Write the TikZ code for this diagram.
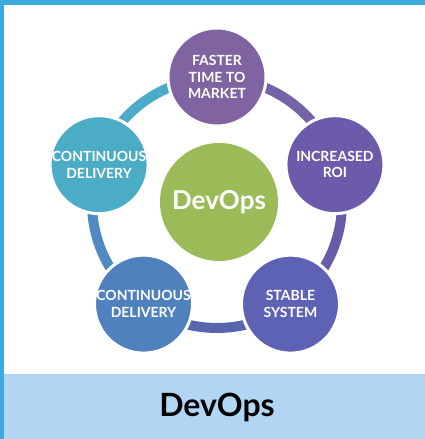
\documentclass[tikz,border=0pt]{standalone}
\usepackage{fontspec}
\setmainfont{Lato}
\definecolor{border}{HTML}{3DA9E1}
\definecolor{band}{HTML}{B1D5F2}
\definecolor{cTop}{HTML}{8064A2}
\definecolor{cRight}{HTML}{6B5BAA}
\definecolor{cBR}{HTML}{5E62B5}
\definecolor{cBL}{HTML}{4F81BD}
\definecolor{cLeft}{HTML}{4BACC6}
\definecolor{cGreen}{HTML}{9BBB59}
\definecolor{sTR}{HTML}{7662A8}
\definecolor{sRB}{HTML}{6A5BAA}
\definecolor{sBB}{HTML}{5866AE}
\definecolor{sBL}{HTML}{4F8BC1}
\definecolor{sLT}{HTML}{4BABC8}
\tikzset{
  outer/.style={circle, minimum size=98pt, inner sep=0pt, draw=white, line width=3pt, text=white,
    font=\fontsize{14}{16.5}\selectfont\bfseries, align=center},
  ringseg/.style={line width=10pt},
}
\begin{document}
\begin{tikzpicture}[x=1pt,y=1pt]
\useasboundingbox (0,0) rectangle (425,439);
\fill[white] (0,0) rectangle (425,439);
\fill[band] (0,0) rectangle (425,65);
\fill[border] (0,434) rectangle (425,439);
\fill[border] (0,0) rectangle (4,439);
\coordinate (ctr) at (217,236);
% ring segments
\draw[ringseg, sTR] ([shift={(90:125)}]ctr) arc[start angle=90, end angle=18, radius=125];
\draw[ringseg, sRB] ([shift={(18:125)}]ctr) arc[start angle=18, end angle=-54, radius=125];
\draw[ringseg, sBB] ([shift={(-54:125)}]ctr) arc[start angle=-54, end angle=-126, radius=125];
\draw[ringseg, sBL] ([shift={(-126:125)}]ctr) arc[start angle=-126, end angle=-198, radius=125];
\draw[ringseg, sLT] ([shift={(162:125)}]ctr) arc[start angle=162, end angle=90, radius=125];
% outer circles
\node[outer, fill=cTop] (top) at ([shift={(90:126)}]ctr) {FASTER\\TIME TO\\MARKET};
\node[outer, fill=cRight] (right) at ([shift={(18:124)}]ctr) {INCREASED\\ROI};
\node[outer, fill=cBR] (br) at ([shift={(-54:125)}]ctr) {STABLE\\SYSTEM};
\node[outer, fill=cBL] (bl) at ([shift={(-126:125)}]ctr) {CONTINUOUS\\DELIVERY};
\node[outer, fill=cLeft] (left) at ([shift={(162:124)}]ctr) {CONTINUOUS\\DELIVERY};
% center
\node[circle, fill=cGreen, minimum size=118pt, inner sep=0pt, text=white,
  font=\fontsize{26}{30}\selectfont\bfseries] (devops) at ([shift={(2,1)}]ctr) {DevOps};
% title
\node[font=\fontsize{32}{36}\selectfont\bfseries, text=black] (title) at (217,32) {DevOps};
\end{tikzpicture}
\end{document}
